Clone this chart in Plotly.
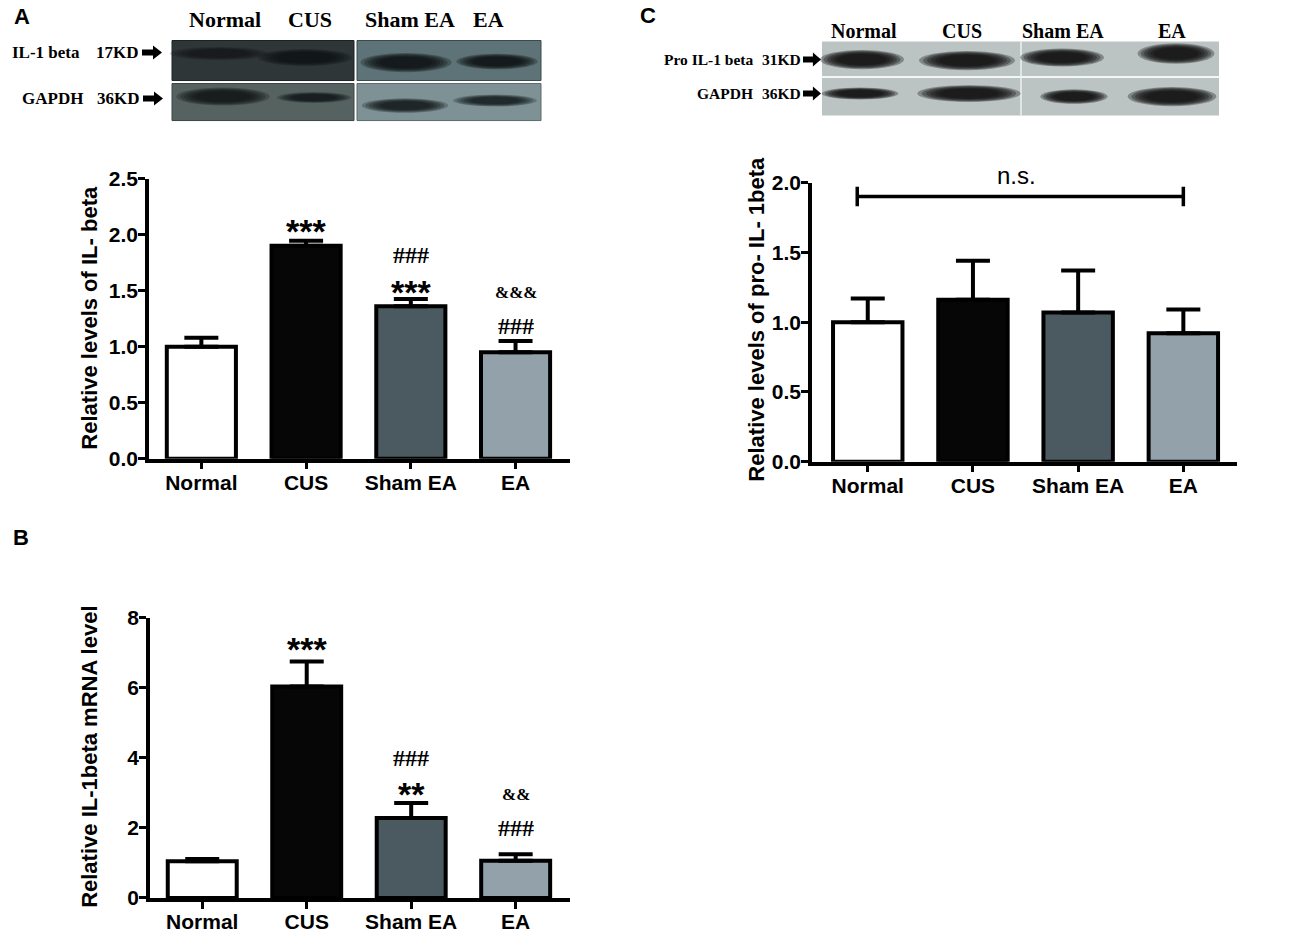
import plotly.graph_objects as go

# ---- data ---------------------------------------------------------------
groups = ["Normal", "CUS", "Sham EA", "EA"]
bar_colors = ["#ffffff", "#060606", "#4b5a60", "#93a2aa"]

# A: western blot quantification, IL-1 beta
il1b_protein = [1.00, 1.90, 1.36, 0.95]
il1b_protein_sem = [0.08, 0.045, 0.065, 0.10]

# B: qPCR, IL-1beta mRNA
il1b_mrna = [1.05, 6.04, 2.28, 1.06]
il1b_mrna_sem = [0.06, 0.71, 0.43, 0.19]

# C: western blot quantification, pro IL-1 beta
pro_il1b = [1.00, 1.16, 1.07, 0.92]
pro_il1b_sem = [0.17, 0.28, 0.30, 0.17]

# significance marks: (group, text, y of label centre)
sig_a = [("CUS", "***", 2.10), ("Sham EA", "***", 1.56), ("Sham EA", "###", 1.82),
         ("EA", "###", 1.18), ("EA", "&&&", 1.48)]
sig_b = [("CUS", "***", 7.35), ("Sham EA", "**", 3.2), ("Sham EA", "###", 4.0),
         ("EA", "###", 2.0), ("EA", "&&", 2.94)]

W, H = 1300, 938
SANS = "Liberation Sans, Arial, sans-serif"
SERIF = "Liberation Serif, Times New Roman, serif"

# the captured page comes out slightly squeezed vertically; place things
# so they land where they should in the capture
Y_OFF, Y_SCALE = 12.5, 0.975


def px(x):
    return x / W


def py(y):
    return 1 - (y - Y_OFF) / Y_SCALE / H


fig = go.Figure()

panels = [
    # axis suffix, values, sem, x domain px, y domain px (top, bottom), y range, dtick, fmt
    ("", il1b_protein, il1b_protein_sem, (149, 570), (179, 459), [0, 2.5], 0.5, ".1f",
     [-0.5, 3.52]),
    ("2", il1b_mrna, il1b_mrna_sem, (150, 570), (618, 898), [0, 8], 2, "d",
     [-0.5, 3.52]),
    ("3", pro_il1b, pro_il1b_sem, (812, 1237), (183, 462), [0, 2.0], 0.5, ".1f",
     [-0.53, 3.51]),
]

for suf, vals, sem, xd, yd, yr, dt, fmt, xr in panels:
    fig.add_trace(go.Bar(
        x=groups, y=vals,
        xaxis="x" + suf, yaxis="y" + suf,
        width=0.66,
        marker=dict(color=bar_colors, line=dict(color="black", width=4)),
        error_y=dict(type="data", array=sem, arrayminus=[0] * len(sem),
                     symmetric=False, thickness=4, width=17, color="black"),
        showlegend=False,
    ))
    axis_common = dict(showline=True, linecolor="black", linewidth=3.5,
                       ticks="outside", ticklen=7, tickwidth=3, tickcolor="black",
                       showgrid=False, zeroline=False, fixedrange=True,
                       tickfont=dict(family=SANS, size=21, color="black", weight="bold"))
    fig.layout["xaxis" + suf] = dict(
        domain=[px(xd[0]), px(xd[1])], anchor="y" + suf,
        type="category", categoryarray=groups, range=xr,
        ticklabelstandoff=-5, **axis_common)
    fig.layout["yaxis" + suf] = dict(
        domain=[py(yd[1]), py(yd[0])], anchor="x" + suf,
        range=yr, dtick=dt, tickformat=fmt,
        ticklabelstandoff=-4, **axis_common)

annotations = []


def add_text(x, y, text, size, family=SANS, bold=True, xanchor="center",
             xref="paper", yref="paper", angle=0, yshift=0):
    annotations.append(dict(
        x=x, y=y, xref=xref, yref=yref, text=text, showarrow=False,
        xanchor=xanchor, yanchor="middle", textangle=angle, yshift=yshift,
        font=dict(family=family, size=size, color="black",
                  weight="bold" if bold else "normal")))


# significance marks
for suf, marks in (("", sig_a), ("2", sig_b)):
    for grp, txt, yv in marks:
        if "*" in txt:
            add_text(grp, yv, txt, 34, xref="x" + suf, yref="y" + suf, yshift=-8)
        elif "#" in txt:
            add_text(grp, yv, txt, 24, family=SERIF, xref="x" + suf, yref="y" + suf)
        else:
            add_text(grp, yv, txt, 17, family=SERIF, xref="x" + suf, yref="y" + suf)

# n.s. bracket in C
ns_y = 1.90
add_text(px(1017), py(176), "n.s.", 24, bold=False)

shapes = [
    dict(type="line", xref="x3", yref="y3", x0=-0.1, x1=3.0, y0=ns_y, y1=ns_y,
         line=dict(color="black", width=3.5)),
    dict(type="line", xref="x3", yref="y3", x0=-0.1, x1=-0.1, y0=ns_y - 0.07,
         y1=ns_y + 0.07, line=dict(color="black", width=3.5)),
    dict(type="line", xref="x3", yref="y3", x0=3.0, x1=3.0, y0=ns_y - 0.07,
         y1=ns_y + 0.07, line=dict(color="black", width=3.5)),
]

# y axis titles
add_text(px(90), py(318), "Relative levels of IL- beta", 22, angle=-90)
add_text(px(90), py(757), "Relative IL-1beta mRNA level", 22, angle=-90)
add_text(px(757), py(320), "Relative levels of pro- IL- 1beta", 22, angle=-90)

# panel letters
add_text(px(22), py(17), "A", 22)
add_text(px(21), py(538), "B", 22)
add_text(px(648), py(16), "C", 22)


# ---- western blot pictures (drawn with shapes) -----------------------------
def rect(x0, y0, x1, y1, color, line=None):
    shapes.append(dict(type="rect", xref="paper", yref="paper",
                       x0=px(x0), x1=px(x1), y0=py(y1), y1=py(y0),
                       fillcolor=color, line=dict(width=1 if line else 0,
                                                  color=line or color),
                       layer="below"))


def band(cx, cy, w, h, color="#0b0f10", strength=1.0):
    # stacked translucent ellipses give a soft edged band
    for scale in (1.2, 1.1, 1.0, 0.9, 0.8, 0.7):
        ww, hh = w * scale / 2, h * scale / 2
        shapes.append(dict(type="circle", xref="paper", yref="paper",
                           x0=px(cx - ww), x1=px(cx + ww), y0=py(cy + hh), y1=py(cy - hh),
                           fillcolor=color, opacity=0.28 * strength,
                           line=dict(width=0), layer="above"))


def arrow(x0, x1, y):
    xm = x0 + (x1 - x0) * 0.55
    path = (f"M {px(x0)} {py(y - 3)} L {px(xm)} {py(y - 3)} L {px(xm)} {py(y - 7)} "
            f"L {px(x1)} {py(y)} L {px(xm)} {py(y + 7)} L {px(xm)} {py(y + 3)} "
            f"L {px(x0)} {py(y + 3)} Z")
    shapes.append(dict(type="path", xref="paper", yref="paper", path=path,
                       fillcolor="black", line=dict(width=0)))


# blot A
rect(172, 41, 354, 81, "#2f3638", "#1c2224")
rect(357, 41, 541, 81, "#5e7377", "#3c4a4d")
rect(172, 84, 354, 121, "#56625f", "#3a4446")
rect(357, 84, 541, 121, "#7e9296", "#5a6b6e")
for cx, cy, w, h, s in ((219, 54, 82, 11, 0.55), (305, 58, 78, 14, 0.9),
                        (406, 63, 76, 16, 1.0), (497, 62, 68, 13, 1.0),
                        (223, 97, 78, 15, 0.9), (314, 98, 62, 9, 0.8),
                        (405, 106, 72, 12, 0.9), (495, 101, 70, 10, 0.8)):
    band(cx, cy, w, h, strength=s)

for txt, cx in (("Normal", 225), ("CUS", 310), ("Sham EA", 410), ("EA", 488)):
    add_text(px(cx), py(20), txt, 22, family=SERIF)
add_text(px(10), py(53), "IL-1 beta", 17, family=SERIF, xanchor="left")
add_text(px(141), py(53), "17KD", 17, family=SERIF, xanchor="right")
add_text(px(20), py(99), "GAPDH", 17, family=SERIF, xanchor="left")
add_text(px(142), py(99), "36KD", 17, family=SERIF, xanchor="right")
arrow(142, 162, 53)
arrow(143, 163, 99)

# blot C
rect(822, 42, 1219, 116, "#bcc3c3")
shapes.append(dict(type="line", xref="paper", yref="paper", x0=px(822), x1=px(1219),
                   y0=py(77.5), y1=py(77.5), line=dict(color="#f4f6f6", width=2)))
shapes.append(dict(type="line", xref="paper", yref="paper", x0=px(1021), x1=px(1021),
                   y0=py(42), y1=py(116), line=dict(color="#eef1f1", width=1.5)))
for cx, cy, w, h in ((862, 60, 70, 16), (967, 61, 80, 16), (1062, 58, 70, 15),
                     (1176, 54, 64, 17), (860, 94, 64, 10), (969, 94, 86, 14),
                     (1074, 97, 56, 12), (1172, 97, 74, 16)):
    band(cx, cy, w, h, color="#0e1010", strength=1.2)

for txt, cx in (("Normal", 864), ("CUS", 962), ("Sham EA", 1063), ("EA", 1172)):
    add_text(px(cx), py(31), txt, 20, family=SERIF)
add_text(px(662), py(60), "Pro IL-1 beta", 15.5, family=SERIF, xanchor="left")
add_text(px(803), py(60), "31KD", 15.5, family=SERIF, xanchor="right")
add_text(px(695), py(94), "GAPDH", 15.5, family=SERIF, xanchor="left")
add_text(px(803), py(94), "36KD", 15.5, family=SERIF, xanchor="right")
arrow(803, 821, 60)
arrow(803, 821, 94)

fig.update_layout(
    width=W, height=H,
    margin=dict(l=0, r=0, t=0, b=0),
    paper_bgcolor="white", plot_bgcolor="white",
    bargap=0.34,
    annotations=annotations,
    shapes=shapes,
)

# pin the figure to the window origin so the page is exactly W x H
pin = (
    "document.body.style.margin='0';"
    "document.body.style.overflow='hidden';"
    "document.body.style.height='938px';"
    "var gd=document.getElementById('{plot_id}');"
    "gd.style.position='fixed';gd.style.top='0';gd.style.left='0';"
)
fig.write_html("out.html", post_script=pin, config={"displayModeBar": False})
